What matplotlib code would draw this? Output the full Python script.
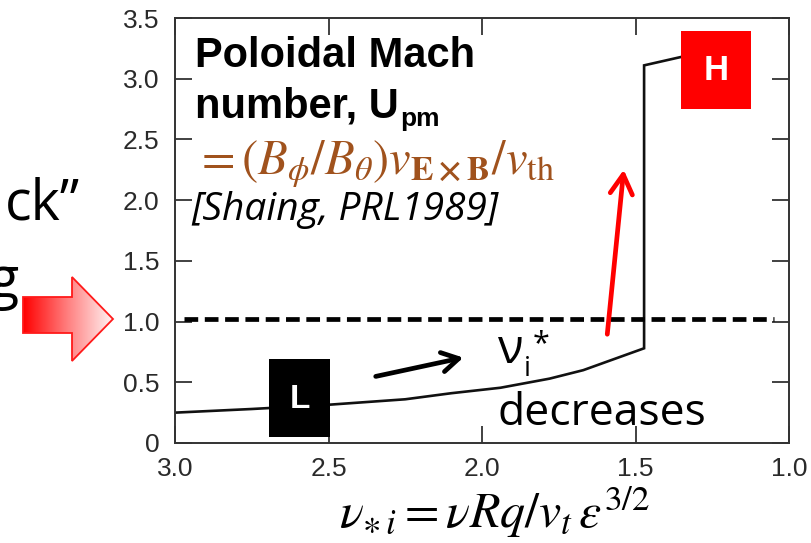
import numpy as np
import matplotlib
matplotlib.use("Agg")
import matplotlib.pyplot as plt
from matplotlib.patches import Polygon, Rectangle, FancyArrowPatch
from matplotlib.colors import LinearSegmentedColormap

# ---- data ----
nu_star = [3.0, 2.75, 2.5, 2.25, 2.1, 1.94, 1.78, 1.67, 1.56, 1.472, 1.472, 1.35, 1.25]
u_pm = [0.25, 0.28, 0.315, 0.36, 0.41, 0.455, 0.53, 0.60, 0.70, 0.78, 3.11, 3.18, 3.22]
threshold_x = [2.97, 1.05]
threshold_y = [1.02, 1.02]
xticks = [3.0, 2.5, 2.0, 1.5, 1.0]
xticklabels = ["3.0", "2.5", "2.0", "1.5", "1.0"]
yticks = [0, 0.5, 1.0, 1.5, 2.0, 2.5, 3.0, 3.5]
yticklabels = ["0", "0.5", "1.0", "1.5", "2.0", "2.5", "3.0", "3.5"]

plt.rcParams['mathtext.fontset'] = 'stix'
W, H = 811, 543
fig = plt.figure(figsize=(W / 100, H / 100), dpi=100)
fig.patch.set_facecolor('white')

ax = fig.add_axes([175 / W, (H - 443) / H, 614 / W, 425 / H])
ax.plot(nu_star, u_pm, color='#111111', lw=1.9, solid_joinstyle='miter')
ax.plot(threshold_x, threshold_y, color='black', lw=3.4, dashes=(2.9, 1.4))
ax.set_xlim(3.0, 1.0)
ax.set_ylim(0, 3.5)
ax.set_xticks(xticks)
ax.set_xticklabels(xticklabels)
ax.set_yticks(yticks)
ax.set_yticklabels(yticklabels)
ax.tick_params(direction='in', length=12, width=1.3, color='#333333',
               top=True, right=True, labelsize=19, labelcolor='#2a2a2a')
ax.tick_params(axis='x', pad=10)
ax.tick_params(axis='y', pad=11)
for lab in ax.get_xticklabels() + ax.get_yticklabels():
    lab.set_family('Liberation Sans')
for s in ax.spines.values():
    s.set_color('#333333')
    s.set_linewidth(1.4)

# ---- overlay in pixel coordinates ----
ov = fig.add_axes([0, 0, 1, 1])
ov.set_xlim(0, W)
ov.set_ylim(H, 0)
ov.axis('off')
ov.patch.set_alpha(0)

fig.canvas.draw()
renderer = fig.canvas.get_renderer()

t1 = ov.text(195, 67, "Poloidal Mach", fontsize=30, fontweight='bold',
             family='Liberation Sans', va='baseline', ha='left')
t2 = ov.text(195, 117, "number, U", fontsize=30, fontweight='bold',
             family='Liberation Sans', va='baseline', ha='left')
bb = t2.get_window_extent(renderer)
xs = ov.transData.inverted().transform((bb.x1, 0))[0]
ov.text(xs + 1, 126, "pm", fontsize=19, fontweight='bold',
        family='Liberation Sans', va='baseline', ha='left')

ov.text(194, 174, r'$=(B_\phi/B_\theta)v_{\mathbf{E\times B}}/v_{\mathrm{th}}$',
        fontsize=35, color='#a0521d', va='baseline', ha='left')
ov.text(191, 220, "[Shaing, PRL1989]", fontsize=28, style='italic',
        family='Open Sans', va='baseline', ha='left')

# H and L boxes
ov.add_patch(Rectangle((681, 31), 70, 78, facecolor='#ff0000', edgecolor='none', zorder=5))
ov.text(716, 71, "H", fontsize=25, fontweight='bold', color='white',
        family='Liberation Sans', ha='center', va='center', zorder=6)
ov.add_patch(Rectangle((269, 359), 61, 78, facecolor='black', edgecolor='none', zorder=5))
ov.text(299.5, 399, "L", fontsize=24, fontweight='bold', color='white',
        family='Liberation Sans', ha='center', va='center', zorder=6)

# arrows
ov.add_patch(FancyArrowPatch((373, 377), (466, 357), arrowstyle='->,head_length=12,head_width=7',
                             color='black', lw=3.4, mutation_scale=1, zorder=6))
ov.add_patch(FancyArrowPatch((607, 337), (624, 167), arrowstyle='->,head_length=14,head_width=8',
                             color='#ff0000', lw=3.4, mutation_scale=1, zorder=6))

# nu_i^* decreases
ov.text(498, 363, "ν", fontsize=34, family='Open Sans', va='baseline', ha='left')
ov.text(524, 376, "i", fontsize=20, family='Open Sans', va='baseline', ha='left')
ov.text(533, 352, "*", fontsize=22, family='Open Sans', va='baseline', ha='left')
ov.text(497, 425, "decreases", fontsize=32, family='Open Sans', va='baseline', ha='left')

# cropped left text (cut at the edge in the reference too)
ov.text(80, 220, "ck\u201d", fontsize=40, family='Open Sans', va='baseline', ha='right')
ov.text(18, 297, "g", fontsize=40, family='Open Sans', va='baseline', ha='right')

# gradient block arrow
verts = [(23, 297), (72, 297), (72, 277), (113, 319), (72, 361), (72, 333), (23, 333)]
poly = Polygon(verts, closed=True, facecolor='none', edgecolor='#ff1a1a', lw=1.3, zorder=4)
ov.add_patch(poly)
cmap = LinearSegmentedColormap.from_list('rw', ['#ff0000', '#ff8080', '#fff4f4'])
grad = np.linspace(0, 1, 256).reshape(1, -1)
im = ov.imshow(grad, extent=[23, 113, 361, 277], cmap=cmap, aspect='auto', zorder=3)
im.set_clip_path(Polygon(verts, closed=True, transform=ov.transData))
ov.set_xlim(0, W)
ov.set_ylim(H, 0)

# x-axis label
ov.text(494, 528, r'$\nu_{\ast\, i} = \nu Rq/v_t\,\epsilon^{3/2}$', fontsize=36,
        va='baseline', ha='center')

fig.savefig('out.png', dpi=100)
